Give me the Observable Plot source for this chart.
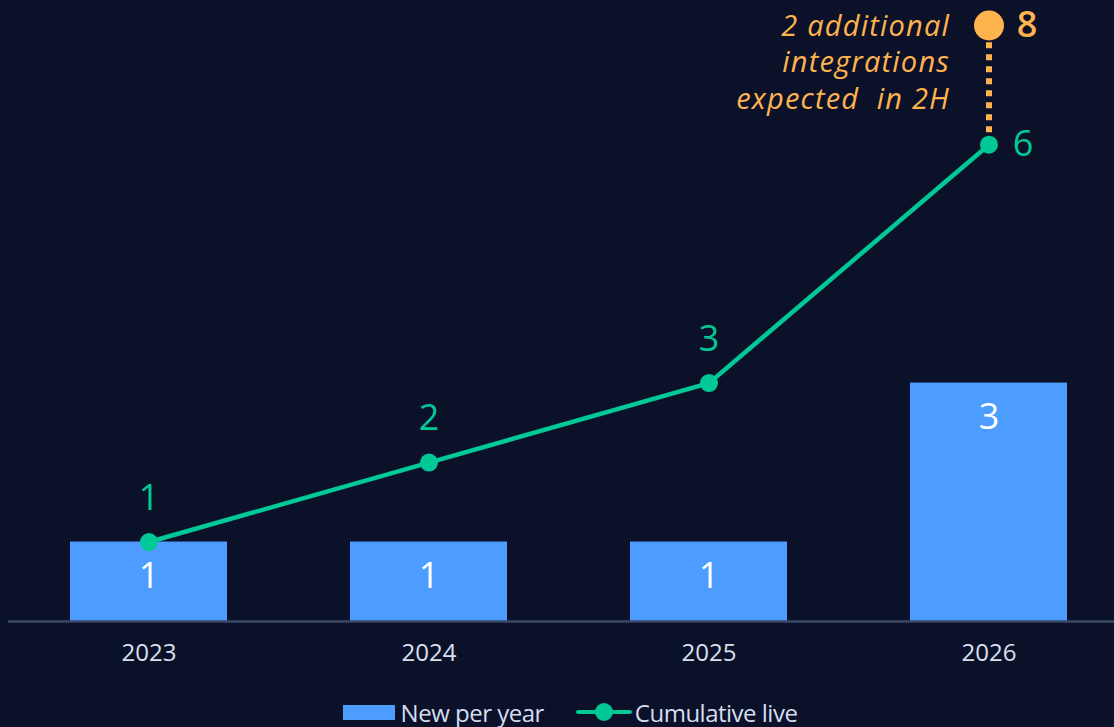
<!DOCTYPE html>
<html>
<head>
<meta charset="utf-8">
<script src="https://cdn.jsdelivr.net/npm/d3@7"></script>
<script src="https://cdn.jsdelivr.net/npm/@observablehq/plot@0.6"></script>
<style>
  html, body { margin: 0; padding: 0; background: #0b1129; }
  #chart { width: 1114px; height: 727px; overflow: hidden; }
  .annot text, .annot tspan { letter-spacing: 1.2px; }
  .legend { display: flex; justify-content: center; align-items: center; height: 30px; padding-top: 17px; padding-left: 26px;
    font-family: 'Open Sans', sans-serif; font-size: 24px; color: #d5ddf0; letter-spacing: -0.5px; }
  .legend .item { display: flex; align-items: center; margin: 0 16px; }
  .swatch-bar { width: 52px; height: 15px; background: #4d9cff; margin-right: 6px; }
  .swatch-line { position: relative; width: 56px; height: 4px; background: #00c896; margin-right: 3px; border-radius: 2px; }
  .swatch-line::after { content: ""; position: absolute; left: 19px; top: -7px; width: 18px; height: 18px; border-radius: 50%; background: #00c896; }
</style>
</head>
<body>
<div id="chart"></div>
<script>
const years = ["2023", "2024", "2025", "2026"];
const newPerYear = [1, 1, 1, 3];
const cumulativeLive = [1, 2, 3, 6];
const expectedYear = "2026";
const expectedTotal = 8;
const annotationText = "2 additional\nintegrations\nexpected  in 2H";
const legendLabels = ["New per year", "Cumulative live"];

const BLUE = "#4d9cff", GREEN = "#00c896", ORANGE = "#ffb34f";

const rows = years.map((year, i) => ({ year, newPerYear: newPerYear[i], cumulative: cumulativeLive[i] }));
const last = rows[rows.length - 1];
const projection = [{ year: expectedYear, from: last.cumulative, to: expectedTotal }];

const plot = Plot.plot({
  width: 1114,
  height: 680,
  marginTop: 25,
  marginBottom: 59,
  marginLeft: 8,
  marginRight: 0,
  style: { background: "transparent", fontFamily: "'Open Sans', sans-serif", color: "#d8e0f0", overflow: "visible" },
  x: { type: "band", domain: years, range: [8, 1128], paddingInner: 0.44, paddingOuter: 0.22, label: null },
  y: { domain: [0, 7.5], clamp: true, axis: null },
  marks: [
    Plot.barY(rows, { x: "year", y: "newPerYear", fill: BLUE }),
    Plot.text(rows, { x: "year", y: "newPerYear", text: d => String(d.newPerYear), dy: 34, fill: "#ffffff", fontSize: 36 }),
    Plot.ruleY([0], { stroke: "#3b4766", strokeWidth: 2.5 }),
    Plot.ruleX(projection, { x: "year", y1: "from", y2: "to", stroke: ORANGE, strokeWidth: 6, strokeDasharray: "6,6" }),
    Plot.line(rows, { x: "year", y: "cumulative", stroke: GREEN, strokeWidth: 4.5 }),
    Plot.dot(rows, { x: "year", y: "cumulative", r: 9, fill: GREEN }),
    Plot.text(rows.slice(0, -1), { x: "year", y: "cumulative", text: d => String(d.cumulative), dy: -44, fill: GREEN, fontSize: 36 }),
    Plot.text([last], { x: "year", y: "cumulative", text: d => String(d.cumulative), dx: 34, fill: GREEN, fontSize: 36 }),
    Plot.dot(projection, { x: "year", y: "to", r: 15, fill: ORANGE }),
    Plot.text(projection, { x: "year", y: "to", text: d => String(d.to), dx: 38, fill: ORANGE, fontSize: 36, fontWeight: 600 }),
    Plot.text(projection, { x: "year", y: "to", text: () => annotationText, className: "annot", textAnchor: "end", lineAnchor: "top", dx: -39, dy: -16, lineHeight: 1.27, fontStyle: "italic", fontSize: 29, fill: ORANGE }),
    Plot.axisX({ tickSize: 0, tickPadding: 22, fontSize: 24, fill: "#d8e0f0", label: null })
  ]
});

const chart = document.getElementById("chart");
chart.appendChild(plot);
const legend = document.createElement("div");
legend.className = "legend";
legend.innerHTML = `<div class="item"><div class="swatch-bar"></div><span>${legendLabels[0]}</span></div>` +
  `<div class="item"><div class="swatch-line"></div><span>${legendLabels[1]}</span></div>`;
chart.appendChild(legend);
</script>
</body>
</html>
